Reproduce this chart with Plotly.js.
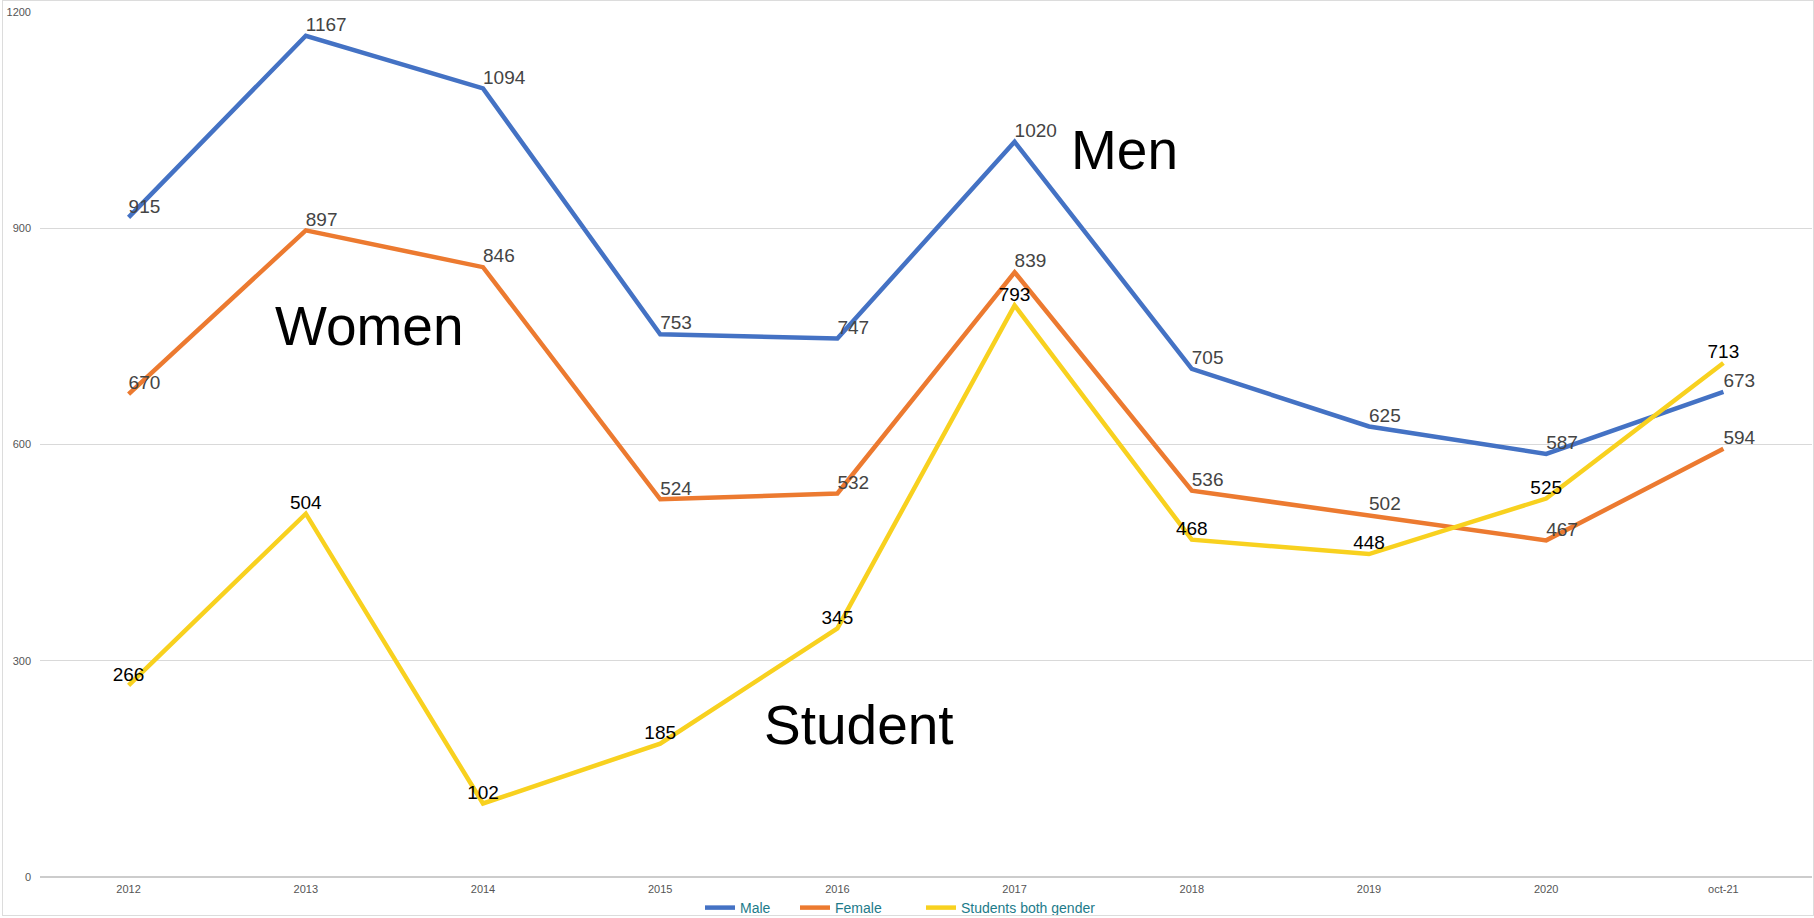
<!DOCTYPE html>
<html>
<head>
<meta charset="utf-8">
<script src="https://cdn.plot.ly/plotly-3.0.1.min.js"></script>
<style>
html,body{margin:0;padding:0;background:#fff;}
#wrap{position:relative;width:1814px;height:918px;}
#chart{position:absolute;left:0;top:0;width:1814px;height:918px;}
#frame{position:absolute;left:2px;top:0px;width:1810px;height:914px;border:1px solid #dcdcdc;pointer-events:none;}
</style>
</head>
<body>
<div id="wrap"><div id="chart"></div><div id="frame"></div></div>
<script>
const categories = ['2012','2013','2014','2015','2016','2017','2018','2019','2020','oct-21'];
const maleValues = [915, 1167, 1094, 753, 747, 1020, 705, 625, 587, 673];
const femaleValues = [670, 897, 846, 524, 532, 839, 536, 502, 467, 594];
const studentValues = [266, 504, 102, 185, 345, 793, 468, 448, 525, 713];
const seriesNames = ['Male', 'Female', 'Students both gender'];
const yTicks = [0, 300, 600, 900, 1200];

const labelFont = {family: 'Liberation Sans, Arial, sans-serif', size: 19};

const traces = [
  {
    x: categories, y: maleValues, name: seriesNames[0], type: 'scatter', mode: 'lines+text',
    line: {color: '#4472c4', width: 4.5}, legend: 'legend',
    text: maleValues.map(String), textposition: 'top right',
    textfont: Object.assign({color: '#444444'}, labelFont), hoverinfo: 'x+y'
  },
  {
    x: categories, y: femaleValues, name: seriesNames[1], type: 'scatter', mode: 'lines+text',
    line: {color: '#ec7a30', width: 4.5}, legend: 'legend2',
    text: femaleValues.map(String), textposition: 'top right',
    textfont: Object.assign({color: '#444444'}, labelFont), hoverinfo: 'x+y'
  },
  {
    x: categories, y: studentValues, name: seriesNames[2], type: 'scatter', mode: 'lines+text',
    line: {color: '#f8d11f', width: 4.5}, legend: 'legend3',
    text: studentValues.map(String), textposition: 'top center',
    textfont: Object.assign({color: '#000000'}, labelFont), hoverinfo: 'x+y'
  }
];

const bigFont = {family: 'Liberation Sans, Arial, sans-serif', size: 55, color: '#000000'};

function legendAt(xpx) {
  return {
    xref: 'container', yref: 'container', x: xpx / 1814, xanchor: 'left',
    y: 10 / 918, yanchor: 'middle', orientation: 'h',
    font: {size: 14, color: '#1d7b8a', family: 'Liberation Sans, Arial, sans-serif'},
    bgcolor: 'rgba(0,0,0,0)', borderwidth: 0
  };
}

const layout = {
  width: 1814, height: 918,
  margin: {l: 40, r: 2, t: 12, b: 41, autoexpand: false},
  paper_bgcolor: '#ffffff', plot_bgcolor: '#ffffff',
  font: {family: 'Liberation Sans, Arial, sans-serif', color: '#555555'},
  showlegend: true,
  legend: legendAt(700),
  legend2: legendAt(795),
  legend3: legendAt(921),
  xaxis: {
    type: 'category', range: [-0.5, 9.5], showgrid: false, zeroline: false,
    showline: false, ticks: '', tickfont: {size: 11, color: '#555555'}, fixedrange: true,
    ticklabelstandoff: 4
  },
  yaxis: {
    range: [0, 1200], tickvals: yTicks, ticktext: yTicks.map(String),
    showgrid: true, gridcolor: '#d9d9d9', gridwidth: 1, zeroline: true, zerolinecolor: '#cccccc',
    zerolinewidth: 1.5, showline: false, ticks: '', tickfont: {size: 11, color: '#555555'},
    ticklabelstandoff: 8, fixedrange: true
  },
  annotations: [
    {x: 5.62, y: 1009, xref: 'x', yref: 'y', text: 'Men', showarrow: false, font: bigFont, xanchor: 'center', yanchor: 'middle'},
    {x: 1.36, y: 764, xref: 'x', yref: 'y', text: 'Women', showarrow: false, font: bigFont, xanchor: 'center', yanchor: 'middle'},
    {x: 4.12, y: 211, xref: 'x', yref: 'y', text: 'Student', showarrow: false, font: bigFont, xanchor: 'center', yanchor: 'middle'}
  ]
};

Plotly.newPlot('chart', traces, layout, {displayModeBar: false, staticPlot: true});
</script>
</body>
</html>
